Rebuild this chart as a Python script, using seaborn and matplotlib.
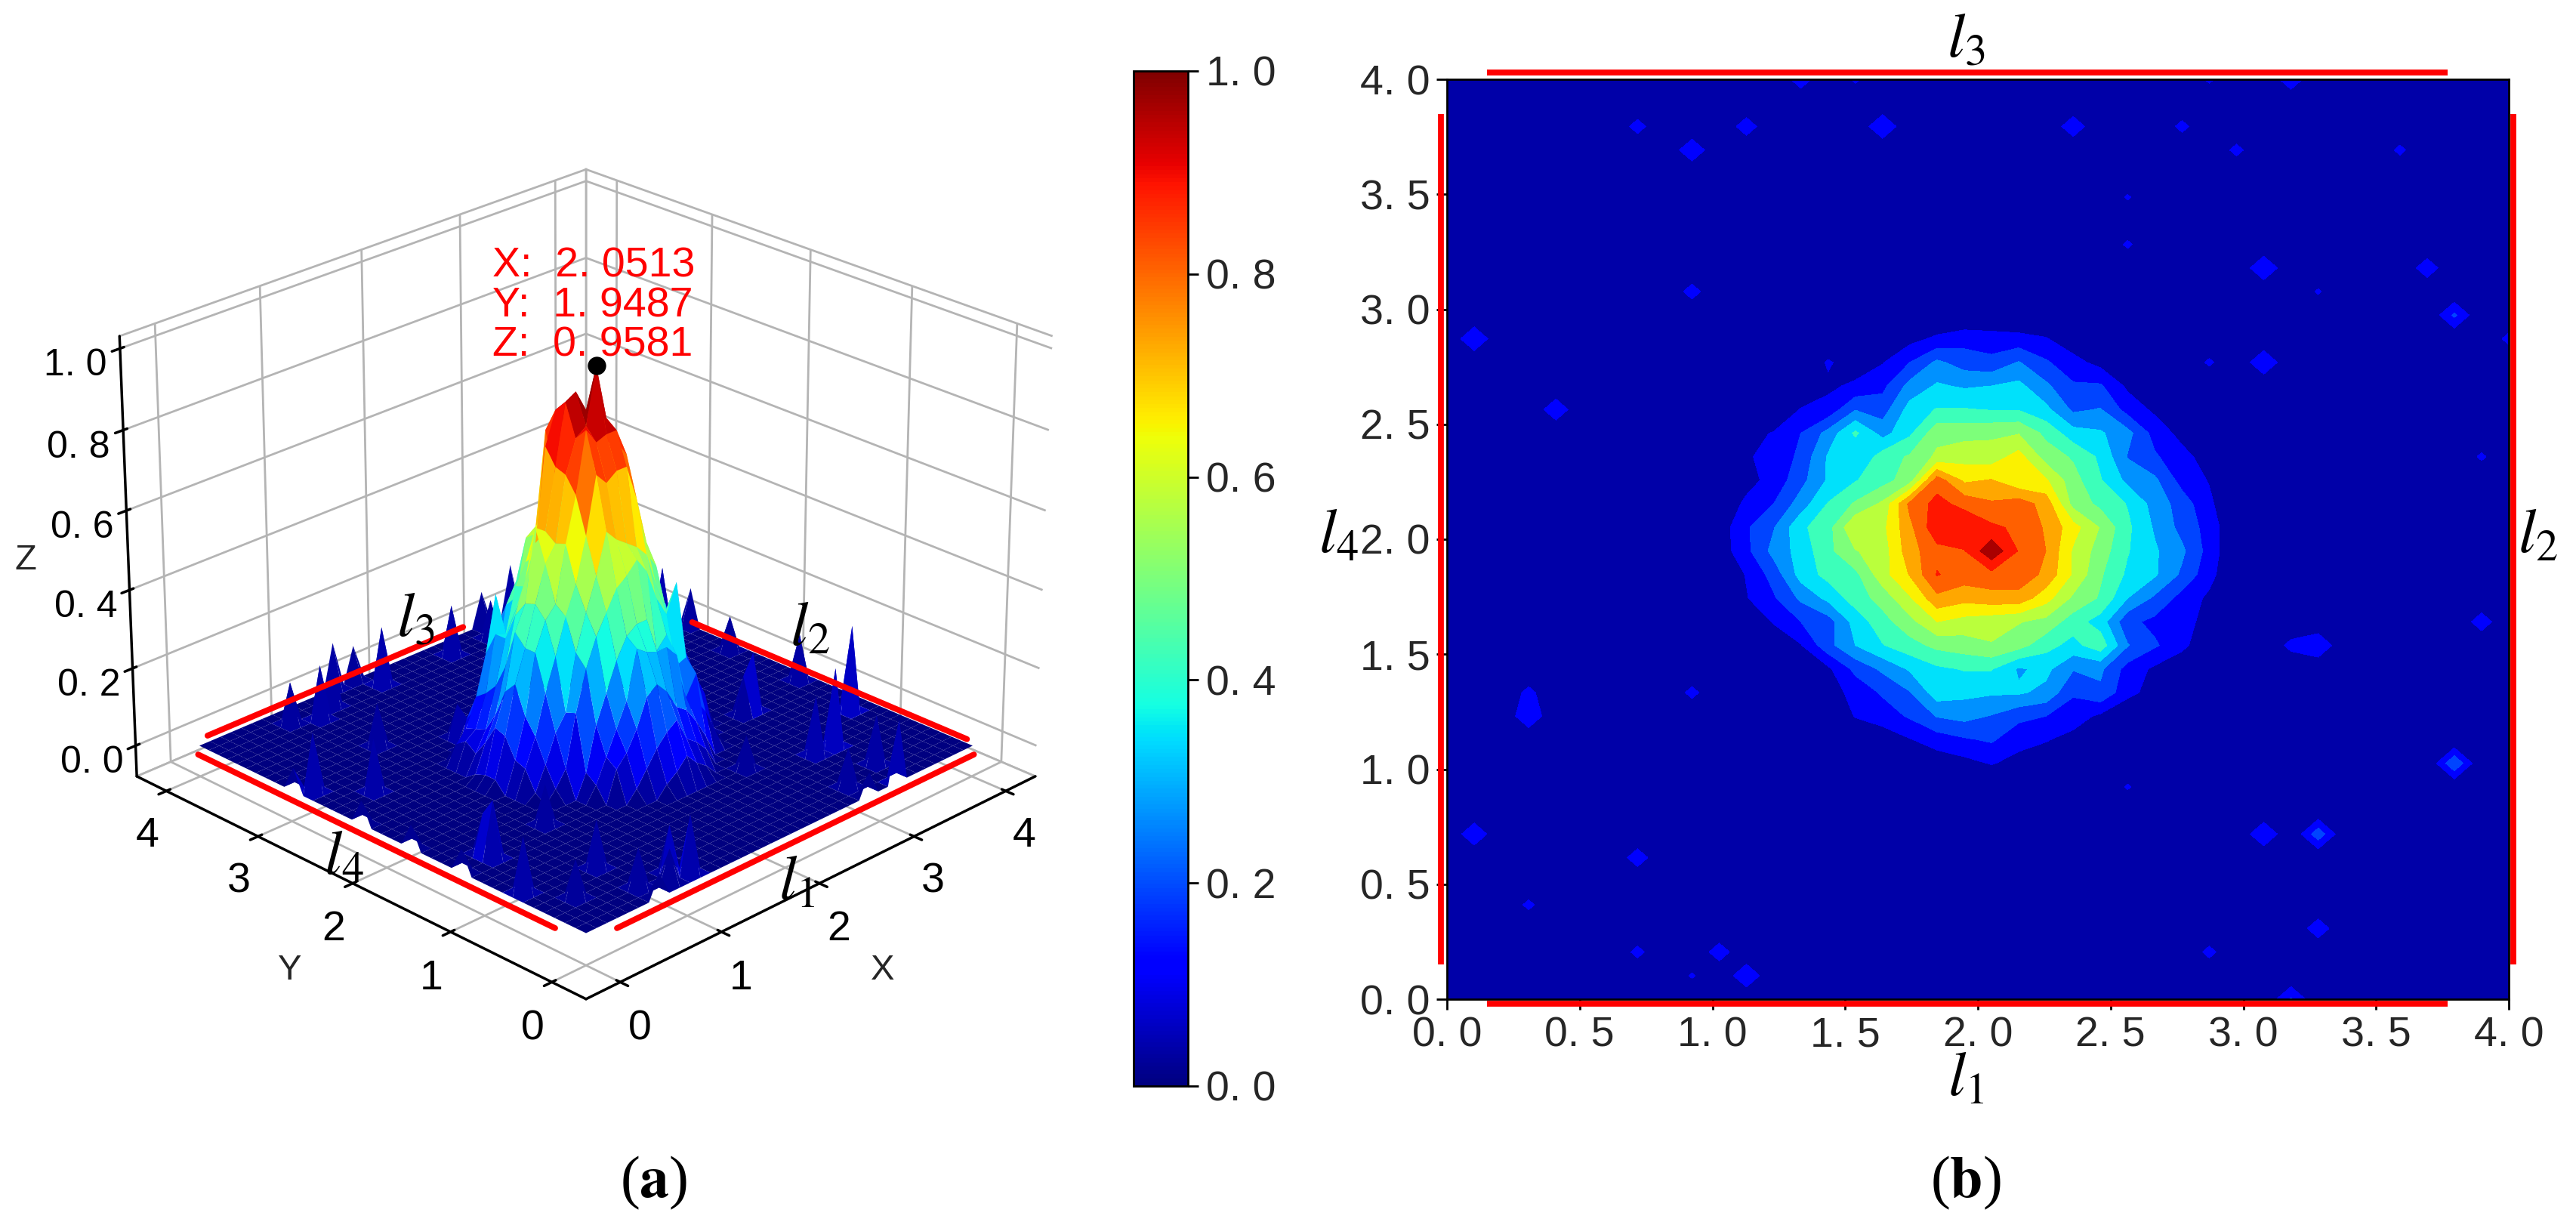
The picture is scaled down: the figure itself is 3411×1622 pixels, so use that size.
import numpy as np
import matplotlib
matplotlib.use("Agg")
import matplotlib.pyplot as plt
from matplotlib.cm import ScalarMappable
from matplotlib.colors import Normalize
import seaborn as sns

sns.set_theme(style="white")
plt.rcParams["font.family"] = ["Liberation Sans", "DejaVu Sans"]
plt.rcParams["mathtext.fontset"] = "stix"
plt.rcParams["grid.color"] = "#b4b4b4"
plt.rcParams["grid.linewidth"] = 1.0
plt.rcParams["axes.unicode_minus"] = False

grid_x = np.linspace(0, 4, 40)
grid_y = np.linspace(0, 4, 40)

# values, columns ix = 10 .. 28 of the 40x40 grid
core_first_ix = 10
z_y28 = [0, 0, 0, 0, 0, 0, 0, .05, .09, .12, .11, .10, .08, .03, 0, 0, 0, 0, 0]
z_y27 = [0, 0, 0, 0, 0, .03, .07, .15, .24, .19, .17, .23, .16, .10, .05, 0, 0, 0, 0]
z_y26 = [0, 0, 0, 0, .06, .09, .13, .25, .31, .29, .30, .32, .24, .16, .16, .06, 0, 0, 0]
z_y25 = [0, 0, 0, .08, .10, .22, .19, .33, .38, .38, .37, .37, .32, .21, .23, .12, .06, 0, 0]
z_y24 = [0, .05, .08, .15, .25, .39, .27, .36, .50, .50, .51, .52, .43, .33, .31, .25, .12, .05, 0]
z_y23 = [0, .07, .09, .17, .31, .30, .41, .46, .54, .57, .56, .63, .49, .44, .36, .22, .16, .10, .04]
z_y22 = [0, .05, .10, .20, .31, .37, .42, .49, .79, .66, .68, .61, .61, .48, .38, .28, .24, .12, .07]
z_y21 = [.02, .09, .15, .26, .38, .46, .54, .77, .85, .80, .76, .79, .72, .50, .43, .37, .27, .19, .09]
z_y20 = [.03, .14, .22, .36, .42, .60, .58, .73, .88, .895, .84, .81, .74, .63, .52, .39, .29, .20, .12]
z_y19 = [.03, .13, .25, .33, .43, .52, .56, .72, .80, .82, .9581, .82, .75, .59, .49, .38, .31, .24, .12]
z_y18 = [0, .08, .18, .33, .40, .43, .57, .68, .83, .79, .80, .80, .73, .59, .46, .36, .31, .21, .10]
z_y17 = [0, .07, .14, .24, .32, .41, .48, .59, .73, .70, .72, .72, .63, .51, .44, .30, .21, .12, .06]
z_y16 = [0, .02, .08, .15, .19, .33, .42, .50, .60, .57, .55, .53, .50, .41, .34, .17, .13, .10, .05]
z_y15 = [0, 0, .03, .07, .20, .30, .37, .42, .47, .49, .52, .48, .40, .35, .42, .23, .16, .10, 0]
z_y14 = [0, 0, 0, 0, .06, .17, .24, .31, .36, .38, .38, .29, .32, .23, .24, .12, .06, 0, 0]
z_y13 = [0, 0, 0, 0, .04, .10, .16, .22, .34, .32, .31, .31, .28, .16, .21, .10, .04, 0, 0]
z_y12 = [0, 0, 0, 0, 0, .08, .11, .16, .23, .25, .22, .17, .15, .11, .06, 0, 0, 0, 0]
z_y11 = [0, 0, 0, 0, 0, 0, .03, .07, .11, .14, .16, .10, .08, .05, 0, 0, 0, 0, 0]
z_y10 = [0, 0, 0, 0, 0, 0, 0, 0, .03, .05, .08, .05, .03, 0, 0, 0, 0, 0, 0]
core_rows = {28: z_y28, 27: z_y27, 26: z_y26, 25: z_y25, 24: z_y24, 23: z_y23, 22: z_y22,
             21: z_y21, 20: z_y20, 19: z_y19, 18: z_y18, 17: z_y17, 16: z_y16, 15: z_y15,
             14: z_y14, 13: z_y13, 12: z_y12, 11: z_y11, 10: z_y10}

# small spikes away from the central peak
spike_ix = [7, 9, 11, 16, 23, 27, 29, 35, 13, 15, 28, 31, 25, 25, 30, 36, 9, 32, 37, 1, 39, 14, 28, 30,
            4, 38, 38, 32, 31, 9, 3, 3, 37, 25, 1, 30, 32, 7, 32, 3, 7, 10, 28, 11, 9, 31,
            0, 0, 0, 0, 7, 28]
spike_iy = [37, 36, 37, 37, 37, 37, 36, 36, 39, 39, 39, 39, 34, 32, 31, 31, 30, 30, 29, 28, 28, 27, 27, 27,
            25, 23, 16, 15, 15, 13, 12, 13, 10, 9, 7, 7, 7, 6, 3, 4, 2, 2, 2, 1, 1, 0,
            29, 22, 17, 12, 0, 0]
spike_z = [.107, .14, .12, .15, .13, .10, .10, .095, .12, .09, .09, .13, .085, .09, .15, .125, .11, .085, .165, .15, .10, .085, .09, .15,
           .135, .09, .12, .15, .10, .10, .145, .10, .22, .085, .14, .15, .20, .12, .125, .095, .10, .12, .10, .145, .085, .16,
           .06, .06, .06, .06, .06, .06]

peak_x, peak_y, peak_z = 2.0513, 1.9487, 0.9581
contour_levels = [0, .075, .15, .225, .30, .375, .45, .525, .60, .675, .75, .825, .90, .975]

tick_3d = [0, 1, 2, 3, 4]
tick_z = [0, .2, .4, .6, .8, 1.0]
tick_z_labels = ["0. 0", "0. 2", "0. 4", "0. 6", "0. 8", "1. 0"]
tick_2d = [0, .5, 1, 1.5, 2, 2.5, 3, 3.5, 4]
tick_2d_labels = ["0. 0", "0. 5", "1. 0", "1. 5", "2. 0", "2. 5", "3. 0", "3. 5", "4. 0"]

Z = np.zeros((40, 40))
for iy, row in core_rows.items():
    Z[iy, core_first_ix:core_first_ix + len(row)] = row
for ix, iy, val in zip(spike_ix, spike_iy, spike_z):
    Z[iy, ix] = val
X, Y = np.meshgrid(grid_x, grid_y)

jet = plt.get_cmap("jet")
W, H = 3411, 1622
fig = plt.figure(figsize=(W / 200, H / 200), dpi=200, facecolor="white")


def box(x0, y0, x1, y1):
    # pixel box of the reference -> figure fraction
    return [x0 / W, 1 - y1 / H, (x1 - x0) / W, (y1 - y0) / H]


### surface
ax3 = fig.add_axes(box(62, 94, 1454, 1426), projection="3d", computed_zorder=False)
ax3.set_facecolor("none")
ax3.view_init(elev=25, azim=-135)
ax3.plot_surface(X, Y, Z, rstride=1, cstride=1, cmap=jet, vmin=0, vmax=.9, linewidth=0, antialiased=True, zorder=1)
ax3.set_xlim(-.33, 4.33)
ax3.set_ylim(-.33, 4.33)
ax3.set_zlim(-.08, 1.03)
ax3.set_xticks(tick_3d)
ax3.set_yticks(tick_3d)
ax3.set_zticks(tick_z)
ax3.set_zticklabels(tick_z_labels)
ax3.tick_params(colors="black")
ax3.tick_params(axis="x", labelsize=20, pad=2)
ax3.tick_params(axis="y", labelsize=20, pad=2)
ax3.tick_params(axis="z", labelsize=18, pad=4)
ax3.set_xlabel("X", fontsize=17, labelpad=12)
ax3.set_ylabel("Y", fontsize=17, labelpad=12)
ax3.set_zlabel("Z", fontsize=17, labelpad=7)
for axis in (ax3.xaxis, ax3.yaxis, ax3.zaxis):
    axis.set_pane_color((1, 1, 1, 1))
    axis.pane.set_edgecolor("#b4b4b4")
    axis.line.set_color("black")

ax3.plot([.2, 3.9], [-.1, -.1], [0, 0], color="red", lw=2.8, zorder=5)
ax3.plot([-.1, -.1], [3.9, .2], [0, 0], color="red", lw=2.8, zorder=5)
ax3.plot([.15, 2.75], [4.08, 4.08], [0, 0], color="red", lw=2.8, zorder=5)
ax3.plot([4.05, 4.05], [2.9, .1], [0, 0], color="red", lw=2.8, zorder=5)
ax3.scatter([peak_x], [peak_y], [peak_z], color="black", s=60, zorder=6, depthshade=False)

fig.text(652 / W, 1 - 405 / H, "X:  2. 0513\nY:  1. 9487\nZ:  0. 9581", color="red", fontsize=20,
         linespacing=1.02, va="center")

### colorbar
cax = fig.add_axes(box(1501, 94, 1573, 1438))
fig.colorbar(ScalarMappable(norm=Normalize(0, 1), cmap=jet), cax=cax, ticks=tick_z)
cax.set_yticklabels(tick_z_labels)
cax.tick_params(labelsize=20, length=5, width=1, color="black", right=True)
for s in cax.spines.values():
    s.set_color("black")
    s.set_linewidth(1)

### contour
ax2 = fig.add_axes(box(1916, 105, 3322, 1323))
ax2.contourf(X, Y, Z, levels=contour_levels, cmap=jet)
ax2.set_xlim(0, 4)
ax2.set_ylim(0, 4)
ax2.set_xticks(tick_2d)
ax2.set_xticklabels(tick_2d_labels)
ax2.set_yticks(tick_2d)
ax2.set_yticklabels(tick_2d_labels)
ax2.tick_params(labelsize=20, length=5, width=1, color="black", left=True, bottom=True, pad=3)
for s in ax2.spines.values():
    s.set_color("black")
    s.set_linewidth(1)
red_style = dict(color="red", lw=2.8, clip_on=False, solid_capstyle="butt")
ax2.plot([.15, 3.77], [4.03, 4.03], **red_style)
ax2.plot([.15, 3.77], [-.02, -.02], **red_style)
ax2.plot([-.024, -.024], [.15, 3.85], **red_style)
ax2.plot([4.018, 4.018], [.15, 3.85], **red_style)

### l labels and panel letters
def note(x, y, s, size=30):
    fig.text(x / W, 1 - y / H, s, fontsize=size, color="black", ha="center", va="center",
             family=["Liberation Serif", "DejaVu Serif"])


note(2603, 56, r"$l_3$")
note(2603, 1430, r"$l_1$")
note(1772, 712, r"$l_4$")
note(3360, 712, r"$l_2$")
note(550, 823, r"$l_3$")
note(1072, 835, r"$l_2$")
note(455, 1138, r"$l_4$")
note(1055, 1170, r"$l_1$")
note(866, 1566, r"($\mathbf{a}$)", 28)
note(2603, 1566, r"($\mathbf{b}$)", 28)

plt.savefig("out.png", dpi=200)
